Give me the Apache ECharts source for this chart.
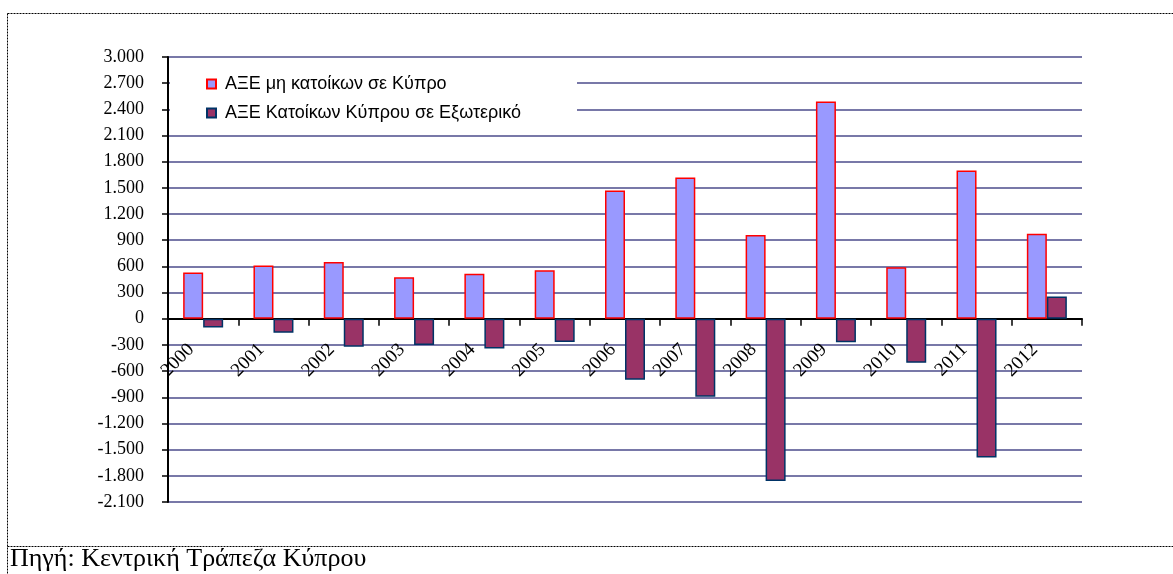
<!DOCTYPE html>
<html>
<head>
<meta charset="utf-8">
<script src="https://cdn.jsdelivr.net/npm/echarts@6/dist/echarts.min.js"></script>
<style>html,body{margin:0;padding:0;background:#fff}#c{width:1173px;height:574px}</style>
</head>
<body>
<div id="c"></div>
<script>
const categories = ['2000','2001','2002','2003','2004','2005','2006','2007','2008','2009','2010','2011','2012'];
const nonResidentsInCyprus = [530, 610, 650, 475, 515, 555, 1470, 1620, 960, 2490, 590, 1700, 975];
const residentsAbroad = [-100, -160, -320, -300, -340, -265, -700, -895, -1860, -270, -505, -1590, 255];
const seriesNames = ['ΑΞΕ μη κατοίκων σε Κύπρο', 'ΑΞΕ Κατοίκων Κύπρου σε Εξωτερικό'];
const sourceText = 'Πηγή: Κεντρική Τράπεζα Κύπρου';
const yMin = -2100, yMax = 3000, yStep = 300;

function fmt(v) {
  const a = Math.abs(v), s = v < 0 ? '-' : '';
  if (a >= 1000) {
    const r = String(a % 1000).padStart(3, '0');
    return s + Math.floor(a / 1000) + '.' + r;
  }
  return s + a;
}

const gridTop = 57, gridBottom = 72, H = 574;
const plotH = H - gridTop - gridBottom;
// distance (px) from the grid bottom edge up to the zero line, derived from the axis range
const zeroOffset = plotH * (0 - yMin) / (yMax - yMin);

const chart = echarts.init(document.getElementById('c'));
chart.setOption({
  animation: false,
  backgroundColor: '#fff',
  grid: { left: 168, right: 91, top: gridTop, bottom: gridBottom, containLabel: false },
  legend: {
    orient: 'vertical', left: 201, top: 70, itemGap: 11,
    itemWidth: 9, itemHeight: 9, icon: 'rect',
    textStyle: { fontFamily: 'Liberation Sans', fontSize: 18, color: '#000', padding: [0, 0, 0, 4] },
    data: seriesNames
  },
  xAxis: {
    type: 'category', data: categories, boundaryGap: true,
    offset: -zeroOffset,
    axisLine: { onZero: false, lineStyle: { color: '#000', width: 2 } },
    axisTick: { show: true, length: 7, lineStyle: { color: '#000', width: 1.5 } },
    axisLabel: { rotate: 45, margin: 16, padding: [0, 17, 0, 0], interval: 0, color: '#000', fontFamily: 'Liberation Serif', fontSize: 19 },
    splitLine: { show: false }
  },
  yAxis: {
    type: 'value', min: yMin, max: yMax, interval: yStep,
    axisLine: { show: true, lineStyle: { color: '#000', width: 2 } },
    axisTick: { show: true, length: 6, lineStyle: { color: '#000', width: 1.5 } },
    axisLabel: { formatter: fmt, margin: 24, color: '#000', fontFamily: 'Liberation Serif', fontSize: 18 },
    splitLine: { show: true, lineStyle: { color: '#7878a8', width: 2 } }
  },
  series: [
    { name: seriesNames[0], type: 'bar', data: nonResidentsInCyprus, barWidth: 20, barGap: '0%',
      itemStyle: { color: '#9999FF', borderColor: '#FF0000', borderWidth: 1.5 } },
    { name: seriesNames[1], type: 'bar', data: residentsAbroad, barWidth: 20, barGap: '0%',
      itemStyle: { color: '#993366', borderColor: '#003366', borderWidth: 1.5 } }
  ],
  graphic: [
    { type: 'rect', z: 1, shape: { x: 170, y: 64, width: 407, height: 64 }, style: { fill: '#fff' } },
    { type: 'line', z: 10, shape: { x1: 7.5, y1: 13.5, x2: 1173, y2: 13.5 }, style: { stroke: '#000', lineWidth: 1, lineDash: [2, 1] } },
    { type: 'line', z: 10, shape: { x1: 7.5, y1: 13.5, x2: 7.5, y2: 574 }, style: { stroke: '#000', lineWidth: 1, lineDash: [2, 1] } },
    { type: 'line', z: 10, shape: { x1: 7.5, y1: 546.5, x2: 1173, y2: 546.5 }, style: { stroke: '#000', lineWidth: 1, lineDash: [2, 1] } },
    { type: 'text', z: 10, x: 10, y: 559, style: { text: sourceText, fill: '#000', font: '26px "Liberation Serif"', verticalAlign: 'middle' } }
  ]
});
</script>
</body>
</html>
